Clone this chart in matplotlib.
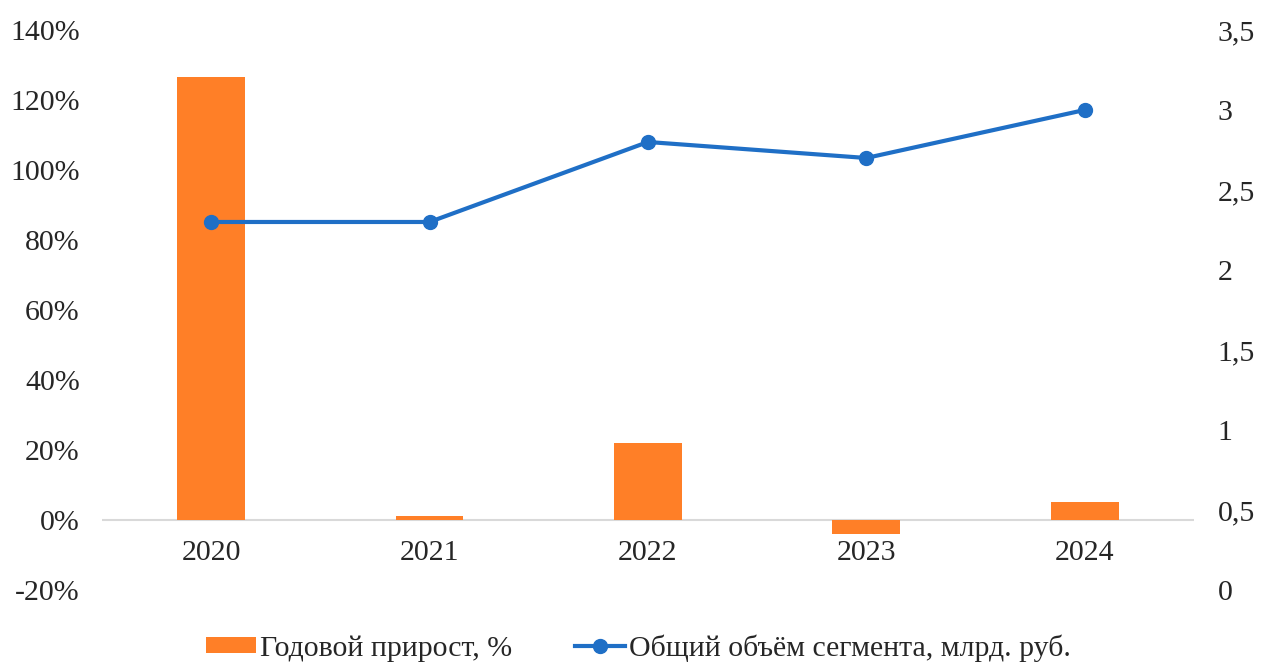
import matplotlib
matplotlib.use("Agg")
import matplotlib.pyplot as plt
from matplotlib.ticker import FuncFormatter, MultipleLocator

years = ["2020", "2021", "2022", "2023", "2024"]
growth_pct = [126.5, 1.0, 22.0, -4.0, 5.0]
volume_bn = [2.3, 2.3, 2.8, 2.7, 3.0]

plt.rcParams['font.family'] = ['Liberation Serif', 'DejaVu Serif']
FS = 21.5

fig = plt.figure(figsize=(12.62, 6.62), dpi=100)
ax = fig.add_axes([0.0808, 0.1088, 0.8652, 0.8459])
x = list(range(len(years)))

bars = ax.bar(x, growth_pct, width=0.31, color="#FF7F27", zorder=2,
              label="Годовой прирост, %")
ax.set_ylim(-20, 140)
ax.set_xlim(-0.5, len(years) - 0.5)
ax.yaxis.set_major_locator(MultipleLocator(20))
ax.yaxis.set_major_formatter(FuncFormatter(lambda v, p: f"{int(round(v))}%"))
ax.axhline(0, color="#D9D9D9", lw=1.5, zorder=1)
for s in ax.spines.values():
    s.set_visible(False)
ax.tick_params(axis="y", length=0, pad=16, labelsize=FS, labelcolor="#262626")
ax.set_xticks([])
for xi, lab in zip(x, years):
    ax.text(xi, -9.5, lab, ha="center", va="center", fontsize=FS, color="#262626")

ax2 = ax.twinx()
line, = ax2.plot(x, volume_bn, color="#1F6FC6", lw=3, marker="o", markersize=10,
                 zorder=3, label="Общий объём сегмента, млрд. руб.")
ax2.set_ylim(0, 3.5)
ax2.yaxis.set_major_locator(MultipleLocator(0.5))
ax2.yaxis.set_major_formatter(FuncFormatter(
    lambda v, p: (f"{v:g}").replace(".", ",")))
for s in ax2.spines.values():
    s.set_visible(False)
ax2.tick_params(axis="y", length=0, pad=17, labelsize=FS, labelcolor="#262626")
for t in ax2.get_yticklabels():
    t.set_horizontalalignment("left")

fig.legend(handles=[bars, line], loc="lower center", ncol=2,
           bbox_to_anchor=(0.506, -0.04), frameon=False, fontsize=FS,
           handlelength=1.67, handleheight=0.45, handletextpad=0.15,
           columnspacing=2.1, labelcolor="#262626")

fig.savefig("out.png", dpi=100)
